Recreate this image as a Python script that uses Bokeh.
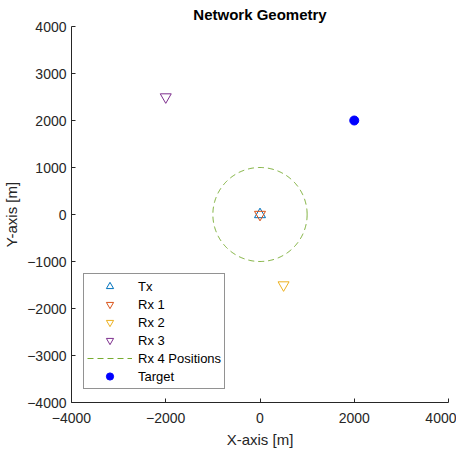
from bokeh.plotting import figure
from bokeh.models import Range1d, Legend, LegendItem, FixedTicker, Title
from bokeh.embed import file_html
from bokeh.resources import INLINE
import numpy as np

# Data
tx_x = [0]; tx_y = [0]
rx1_x = [0]; rx1_y = [0]
rx2_x = [500]; rx2_y = [-1500]
rx3_x = [-2000]; rx3_y = [2500]
rx4_center = [0, 0]
rx4_radius = 1000
target_x = [2000]; target_y = [2000]
ticks = [-4000, -2000, 0, 2000, 4000]
yticks = [-4000, -3000, -2000, -1000, 0, 1000, 2000, 3000, 4000]

theta = np.linspace(0, 2 * np.pi, 361)
circ_x = rx4_center[0] + rx4_radius * np.cos(theta)
circ_y = rx4_center[1] + rx4_radius * np.sin(theta)

FONT = "Liberation Sans"
AX = "#262626"

p = figure(width=458, height=450, output_backend="svg", toolbar_location=None,
           x_range=Range1d(-4000, 4000), y_range=Range1d(-4000, 4000),
           frame_width=377, frame_height=376,
           min_border_left=65, min_border_right=8, min_border_top=26, min_border_bottom=48)
p.outline_line_color = None
p.xgrid.grid_line_color = None
p.ygrid.grid_line_color = None
p.background_fill_color = "white"

t = Title(text="Network Geometry", align="center", text_font=FONT,
          text_font_size="15px", text_font_style="bold", text_color="black",
          standoff=7, offset=0)
p.add_layout(t, "above")

for ax in (p.xaxis[0], p.yaxis[0]):
    ax.axis_line_color = AX
    ax.major_tick_line_color = AX
    ax.minor_tick_line_color = None
    ax.major_tick_in = 4
    ax.major_tick_out = 0
    ax.major_label_text_font = FONT
    ax.major_label_text_font_size = "14px"
    ax.major_label_text_color = AX
    ax.axis_label_text_font = FONT
    ax.axis_label_text_font_size = "15px"
    ax.axis_label_text_font_style = "normal"
    ax.axis_label_text_color = AX

p.xaxis.ticker = FixedTicker(ticks=ticks)
p.yaxis.ticker = FixedTicker(ticks=yticks)
p.xaxis.axis_label = "X-axis [m]"
p.yaxis.axis_label = "Y-axis [m]"
p.xaxis.major_label_standoff = 10
p.yaxis.major_label_standoff = 5
p.xaxis.axis_label_standoff = 5
p.yaxis.axis_label_standoff = 4

r_tx = p.scatter(tx_x, tx_y, marker="triangle", size=11, fill_color=None,
                 line_color="#0072BD", line_width=1)
r_rx1 = p.scatter(rx1_x, rx1_y, marker="inverted_triangle", size=11, fill_color=None,
                  line_color="#D95319", line_width=1)
r_rx2 = p.scatter(rx2_x, rx2_y, marker="inverted_triangle", size=11, fill_color=None,
                  line_color="#EDB120", line_width=1)
r_rx3 = p.scatter(rx3_x, rx3_y, marker="inverted_triangle", size=11, fill_color=None,
                  line_color="#7E2F8E", line_width=1)
r_rx4 = p.line(circ_x, circ_y, line_color="#77AC30", line_dash="6 4", line_width=1)
r_tg = p.scatter(target_x, target_y, marker="circle", size=9, fill_color="#0000FF",
                 line_color="#0000FF")

legend = Legend(items=[
    LegendItem(label="Tx", renderers=[r_tx]),
    LegendItem(label="Rx 1", renderers=[r_rx1]),
    LegendItem(label="Rx 2", renderers=[r_rx2]),
    LegendItem(label="Rx 3", renderers=[r_rx3]),
    LegendItem(label="Rx 4 Positions", renderers=[r_rx4]),
    LegendItem(label="Target", renderers=[r_tg]),
], location=(12, 13), glyph_width=45, glyph_height=18, label_standoff=6,
    padding=3, spacing=0, margin=0, label_text_font=FONT, label_text_font_size="13px",
    label_text_color="black", label_height=18,
    border_line_color="#262626", border_line_width=1, background_fill_alpha=1)
p.add_layout(legend, "center")

open("out.html", "w").write(file_html(p, INLINE))
